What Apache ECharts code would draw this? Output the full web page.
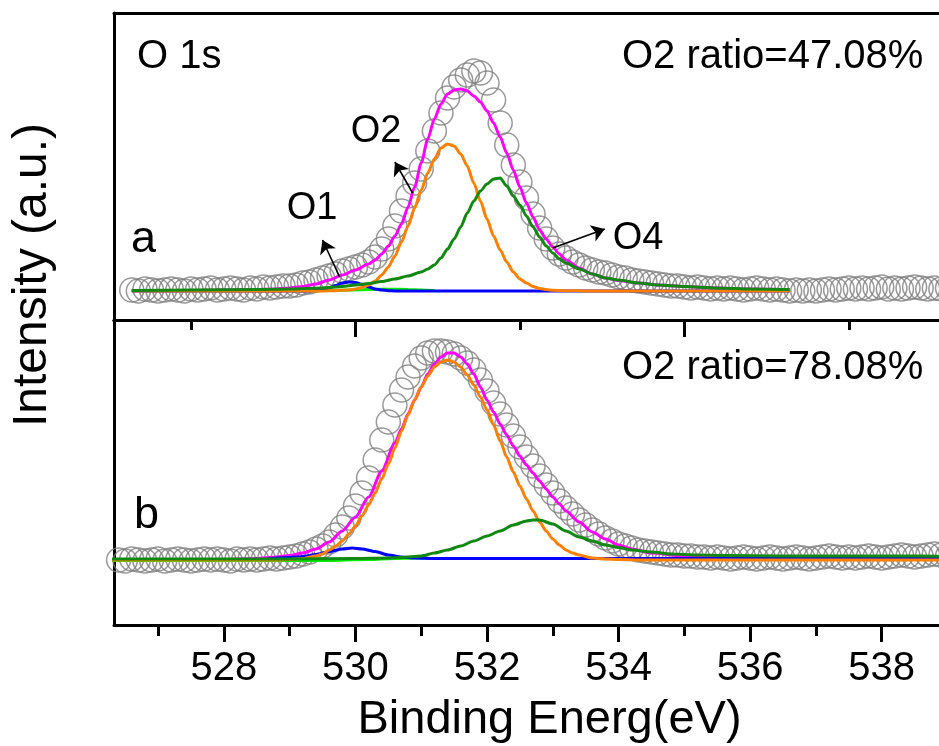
<!DOCTYPE html>
<html>
<head>
<meta charset="utf-8">
<script src="https://cdn.jsdelivr.net/npm/echarts@6/dist/echarts.min.js"></script>
<style>
  html, body { margin: 0; padding: 0; background: #ffffff; }
  #chart { width: 939px; height: 746px; }
</style>
</head>
<body>
<div id="chart"></div>
<script>
// O 1s XPS spectra with peak fits: sample a (upper panel) and sample b (lower panel)

const energyRange = [526.33, 539.57];
const majorTicks = [528, 530, 532, 534, 536, 538];
const minorTicks = [527, 529, 531, 533, 535, 537, 539];
const innerMajorTicks = [530, 535];
const innerMinorTicks = [527.5, 532.5, 537.5];

const ratioA = 'O2 ratio=47.08%';
const ratioB = 'O2 ratio=78.08%';

// ---- sample a: measured points [binding energy, intensity] ----
const obsA = [[526.6,1],[526.7,0],[526.8,2],[526.9,1],[527.0,0],[527.1,1],[527.2,2],[527.3,1],[527.4,0],[527.5,2],
[527.6,1],[527.7,2],[527.8,3],[527.9,1],[528.0,2],[528.1,3],[528.2,2],[528.3,1],[528.4,3],[528.5,2],
[528.6,4],[528.7,3],[528.8,4],[528.9,5],[529.0,5],[529.1,6],[529.2,8],[529.3,9],[529.4,11],[529.5,13],
[529.6,15],[529.7,17],[529.8,20],[529.9,22],[530.0,24],[530.1,26],[530.2,29],[530.3,34],[530.4,42],[530.5,52],
[530.6,65],[530.7,80],[530.8,95],[530.9,108],[531.0,122],[531.1,140],[531.2,160],[531.3,178],[531.4,193],[531.5,204],
[531.6,211],[531.7,216],[531.8,220],[531.9,218],[532.0,208],[532.1,191],[532.2,168],[532.3,146],[532.4,126],[532.5,109],
[532.6,93],[532.7,77],[532.8,63],[532.9,52],[533.0,43],[533.1,37],[533.2,33],[533.3,29],[533.4,26],[533.5,23],
[533.6,21],[533.7,19],[533.8,18],[533.9,16],[534.0,14],[534.1,13],[534.2,11],[534.3,10],[534.4,9],[534.5,8],
[534.6,7],[534.7,6],[534.8,5],[534.9,5],[535.0,4],[535.1,3],[535.2,4],[535.3,3],[535.4,2],[535.5,3],
[535.6,2],[535.7,3],[535.8,2],[535.9,1],[536.0,2],[536.1,3],[536.2,2],[536.3,1],[536.4,2],[536.5,1],
[536.6,0],[536.7,1],[536.8,0],[536.9,1],[537.0,0],[537.1,1],[537.2,2],[537.3,1],[537.4,2],[537.5,3],
[537.6,2],[537.7,3],[537.8,2],[537.9,3],[538.0,4],[538.1,2],[538.2,3],[538.3,2],[538.4,3],[538.5,4],
[538.6,3],[538.7,2],[538.8,3],[538.9,2],[539.0,3]];

// ---- sample a: fitted envelope and components ----
const sumA = [[526.6,0.5],[527.5,0.5],[528.0,1],[528.5,1.5],[528.8,2],[529.0,3],[529.2,4.5],[529.4,7],[529.6,11],[529.8,16],
[530.0,21],[530.2,27],[530.3,31],[530.4,37],[530.5,45],[530.6,55],[530.7,67],[530.8,84],[530.9,104],[531.0,128],
[531.1,152],[531.2,172],[531.3,187],[531.4,197],[531.5,201],[531.6,202],[531.7,200],[531.8,195],[531.9,189],[532.0,180],
[532.1,168],[532.2,154],[532.3,138],[532.4,121],[532.5,104],[532.6,88],[532.7,74],[532.8,61],[532.9,52],[533.0,44],
[533.1,37],[533.2,31],[533.4,23],[533.6,17],[533.8,13],[534.0,10.5],[534.3,8],[534.6,6],[535.0,4.5],[535.5,3],
[536.0,2],[536.6,1.5]];
const o1A = [[526.6,0],[529.3,0],[529.4,0.5],[529.5,1.5],[529.6,3],[529.7,5.5],[529.8,8],[529.9,9],[530.0,8.5],[530.1,6.5],
[530.2,4],[530.3,2],[530.4,1],[530.5,0.3],[530.6,0],[536.6,0]];
const o2A = [[526.6,0],[529.5,0],[529.7,0.3],[529.9,1],[530.0,2],[530.1,3.5],[530.2,6],[530.3,10],[530.4,16],[530.5,24],
[530.6,35],[530.7,49],[530.8,65],[530.9,83],[531.0,101],[531.1,118],[531.2,132],[531.3,143],[531.4,147],[531.5,145],
[531.6,137],[531.7,125],[531.8,108],[531.9,90],[532.0,72],[532.1,55],[532.2,41],[532.3,29],[532.4,19],[532.5,12],
[532.6,8],[532.7,4.5],[532.8,2.5],[532.9,1.4],[533.0,0.8],[533.2,0.3],[533.5,0],[536.6,0]];
const o3A = [[529.3,0],[529.6,0.5],[529.9,1],[530.2,1.5],[530.5,1.8],[530.8,1.6],[531.0,1],[531.2,0.5]];
const o4A = [[526.6,0.5],[527.5,1],[528.5,1.5],[529.0,2],[529.5,3],[529.8,4.5],[530.0,6],[530.2,7.5],[530.4,9.5],[530.6,12],
[530.8,15],[531.0,19],[531.1,22],[531.2,26],[531.3,33],[531.4,42],[531.5,52],[531.6,64],[531.7,78],[531.8,90],
[531.9,100],[532.0,107],[532.1,112],[532.2,113],[532.3,105],[532.4,95],[532.5,86],[532.6,75],[532.7,64],[532.8,54],
[532.9,45],[533.0,38],[533.1,32],[533.2,28],[533.4,22],[533.6,17],[533.8,13],[534.0,11],[534.3,8],[534.6,6],
[535.0,4.5],[535.5,3],[536.0,2],[536.6,1.5]];

// ---- sample b: measured points ----
const obsB = [[526.4,0],[526.5,-1],[526.6,1],[526.7,0],[526.8,-1],[526.9,0],[527.0,1],[527.1,-1],[527.2,0],[527.3,1],
[527.4,0],[527.5,-1],[527.6,0],[527.7,1],[527.8,0],[527.9,1],[528.0,0],[528.1,-1],[528.2,1],[528.3,0],
[528.4,1],[528.5,0],[528.6,1],[528.7,2],[528.8,1],[528.9,2],[529.0,3],[529.1,4],[529.2,6],[529.3,8],
[529.4,11],[529.5,14],[529.6,18],[529.7,25],[529.8,33],[529.9,42],[530.0,54],[530.1,67],[530.2,82],[530.3,100],
[530.4,120],[530.5,138],[530.6,155],[530.7,170],[530.8,183],[530.9,194],[531.0,202],[531.1,207],[531.2,209],[531.3,209],
[531.4,208],[531.5,206],[531.6,202],[531.7,197],[531.8,190],[531.9,180],[532.0,169],[532.1,157],[532.2,146],[532.3,135],
[532.4,124],[532.5,113],[532.6,103],[532.7,94],[532.8,84],[532.9,75],[533.0,67],[533.1,59],[533.2,52],[533.3,46],
[533.4,40],[533.5,35],[533.6,30],[533.7,26],[533.8,22],[533.9,19],[534.0,16],[534.1,14],[534.2,12],[534.3,10],
[534.4,9],[534.5,8],[534.6,7],[534.7,6],[534.8,5],[534.9,5],[535.0,4],[535.1,4],[535.2,3],[535.3,3],
[535.4,2],[535.5,3],[535.6,2],[535.7,1],[535.8,2],[535.9,3],[536.0,2],[536.1,1],[536.2,2],[536.3,3],
[536.4,2],[536.5,1],[536.6,2],[536.7,3],[536.8,2],[536.9,1],[537.0,2],[537.1,3],[537.2,4],[537.3,3],
[537.4,2],[537.5,3],[537.6,2],[537.7,3],[537.8,4],[537.9,3],[538.0,2],[538.1,3],[538.2,4],[538.3,5],
[538.4,4],[538.5,3],[538.6,4],[538.7,5],[538.8,6],[538.9,5],[539.0,4]];

// ---- sample b: fitted envelope and components ----
const sumB = [[526.3,0.5],[528.0,0.5],[528.5,1.5],[528.8,3],[529.0,4.5],[529.2,7],[529.4,11],[529.6,18],[529.8,29],[530.0,43],
[530.2,63],[530.4,89],[530.6,117],[530.7,131],[530.8,146],[530.9,160],[531.0,173],[531.1,186],[531.2,196],[531.3,203],
[531.4,207],[531.5,207],[531.6,203],[531.7,196],[531.8,186],[531.9,173],[532.0,160],[532.1,148],[532.2,136],[532.3,125],
[532.4,114],[532.5,104],[532.6,95],[532.7,87],[532.8,79],[532.9,71],[533.0,63],[533.1,56],[533.2,49],[533.4,38],
[533.6,28],[533.8,21],[534.0,15],[534.2,11],[534.5,7],[535.0,4],[535.5,3],[536.0,2.5],[537.0,2.5],[539.6,2.5]];
const o1B = [[526.3,0.5],[528.6,0.5],[528.8,2],[529.0,2.5],[529.2,3.5],[529.4,5.5],[529.6,8.5],[529.8,11],[529.95,12],[530.1,11],
[530.3,8.5],[530.5,5],[530.7,3],[530.9,2],[531.2,1.5],[539.6,1.5]];
const o2B = [[526.3,0],[528.8,0],[529.0,0.5],[529.2,1.5],[529.4,4],[529.5,6],[529.6,10],[529.7,14],[529.8,19],[529.9,26],
[530.0,34],[530.1,44],[530.2,55],[530.3,67],[530.4,81],[530.5,96],[530.6,112],[530.7,129],[530.8,145],[530.9,160],
[531.0,173],[531.1,184],[531.2,193],[531.3,198],[531.4,200],[531.5,198],[531.6,193],[531.7,185],[531.8,175],[531.9,163],
[532.0,150],[532.1,135],[532.2,119],[532.3,103],[532.4,88],[532.5,74],[532.6,61],[532.7,49],[532.8,38],[532.9,29],
[533.0,21],[533.1,15],[533.2,10],[533.3,7],[533.4,5],[533.6,2],[533.8,1],[534.0,0.4],[534.3,0],[539.6,0]];
const o3B = [[526.3,-0.5],[529.5,-0.5],[530.2,0.5],[530.6,1.5],[530.9,2],[531.1,2]];
const o4B = [[526.3,1],[529.0,1],[530.0,1.5],[530.5,2],[530.7,2.5],[531.0,4],[531.2,7],[531.4,10],[531.6,14],[531.8,19],
[532.0,24],[532.2,29],[532.4,35],[532.6,39],[532.7,40],[532.8,40],[533.0,36],[533.2,29],[533.4,23],[533.6,19],
[533.8,15],[534.0,12.5],[534.2,10],[534.5,8],[534.8,6],[535.2,5],[535.6,4.5],[536.5,4],[537.5,4],[538.5,4],[539.6,3.5]];

// arrows tying the component names to their peaks (energy, intensity)
const arrowsA = [
  { from: [529.76, 14], to: [529.50, 51] },
  { from: [530.87, 98], to: [530.60, 129] },
  { from: [533.00, 43], to: [533.79, 62] }
];

const FONT = '"Liberation Sans", Arial, Helvetica, sans-serif';
const COLORS = { data: '#808080', sum: '#ff00ff', o1: '#0000ff', o2: '#ff8000', o3: '#00ee00', o4: '#118811' };
const frameLine = { show: true, onZero: false, lineStyle: { color: '#000', width: 3 } };
const hiddenLine = { show: false, onZero: false };

function plainX(gridIndex, position, showLine) {
  return {
    type: 'value', gridIndex, position, min: energyRange[0], max: energyRange[1],
    axisLine: showLine ? frameLine : hiddenLine,
    axisTick: { show: false }, axisLabel: { show: false }, splitLine: { show: false }
  };
}
function tickX(gridIndex, position, values, length, inside) {
  const ax = plainX(gridIndex, position, false);
  ax.axisTick = { show: true, inside, length, customValues: values, lineStyle: { color: '#000', width: 3 } };
  return ax;
}
function plainY(gridIndex, position, min, max) {
  return {
    type: 'value', gridIndex, position, min, max,
    axisLine: frameLine, axisTick: { show: false }, axisLabel: { show: false }, splitLine: { show: false }
  };
}

// frame line + tick labels + title of the shared energy axis
const labelAxis = plainX(1, 'bottom', true);
labelAxis.axisLabel = {
  show: true, customValues: majorTicks, color: '#000', fontSize: 40, fontFamily: FONT, margin: 24
};
labelAxis.name = 'Binding Energ(eV)';
labelAxis.nameLocation = 'middle';
labelAxis.nameGap = 72;
labelAxis.nameTextStyle = { color: '#000', fontSize: 47, fontFamily: FONT };

function dataSeries(data, xi, yi) {
  return {
    type: 'scatter', xAxisIndex: xi, yAxisIndex: yi, data, symbol: 'circle', symbolSize: 24,
    itemStyle: { color: 'rgba(255,255,255,0)', borderColor: COLORS.data, borderWidth: 1.5 },
    silent: true, z: 2
  };
}
function fitSeries(data, color, xi, yi) {
  return {
    type: 'line', xAxisIndex: xi, yAxisIndex: yi, data, symbol: 'none', showSymbol: false,
    smooth: 0.25, smoothMonotone: 'x', lineStyle: { color, width: 3 }, silent: true, z: 3
  };
}

const sumSeriesA = fitSeries(sumA, COLORS.sum, 0, 0);
sumSeriesA.markLine = {
  silent: true, symbol: ['none', 'arrow'], symbolSize: 13, animation: false,
  label: { show: false }, lineStyle: { color: '#000', width: 1.6, type: 'solid' },
  data: arrowsA.map(a => [{ coord: a.from }, { coord: a.to }])
};

function label(text, x, y, size, align) {
  return {
    type: 'text', x, y, silent: true,
    style: { text, fill: '#000', font: size + 'px ' + FONT, align: align || 'left', verticalAlign: 'middle' }
  };
}

const gridBase = { left: 114, width: 871, containLabel: false, outerBoundsMode: 'none' };

const option = {
  animation: false,
  backgroundColor: '#ffffff',
  grid: [
    Object.assign({ top: 13, height: 307 }, gridBase),
    Object.assign({ top: 320, height: 305 }, gridBase)
  ],
  xAxis: [
    plainX(0, 'bottom', true),
    plainX(0, 'top', true),
    labelAxis,
    tickX(1, 'bottom', majorTicks, 17, false),
    tickX(1, 'bottom', minorTicks, 11, false),
    plainX(1, 'top', true),
    tickX(1, 'top', innerMajorTicks, 17, true),
    tickX(1, 'top', innerMinorTicks, 10, true)
  ],
  yAxis: [
    plainY(0, 'left', -29, 278),
    plainY(0, 'right', -29, 278),
    plainY(1, 'left', -65, 240),
    plainY(1, 'right', -65, 240)
  ],
  series: [
    dataSeries(obsA, 0, 0),
    fitSeries(o3A, COLORS.o3, 0, 0),
    sumSeriesA,
    fitSeries(o1A, COLORS.o1, 0, 0),
    fitSeries(o2A, COLORS.o2, 0, 0),
    fitSeries(o4A, COLORS.o4, 0, 0),
    dataSeries(obsB, 2, 2),
    fitSeries(sumB, COLORS.sum, 2, 2),
    fitSeries(o3B, COLORS.o3, 2, 2),
    fitSeries(o1B, COLORS.o1, 2, 2),
    fitSeries(o2B, COLORS.o2, 2, 2),
    fitSeries(o4B, COLORS.o4, 2, 2)
  ],
  graphic: [
    label('O 1s', 137, 57, 40),
    label(ratioA, 622, 57, 40),
    label(ratioB, 622, 368, 40),
    label('a', 131, 240, 45),
    label('b', 134, 516, 45),
    label('O1', 312, 209, 38, 'center'),
    label('O2', 376, 132, 38, 'center'),
    label('O4', 638, 239, 38, 'center'),
    {
      type: 'text', x: 33, y: 275, rotation: Math.PI / 2, silent: true,
      style: { text: 'Intensity (a.u.)', fill: '#000', font: '48px ' + FONT, align: 'center', verticalAlign: 'middle' }
    }
  ]
};

const chart = echarts.init(document.getElementById('chart'), null, { renderer: 'canvas' });
chart.setOption(option);
</script>
</body>
</html>
